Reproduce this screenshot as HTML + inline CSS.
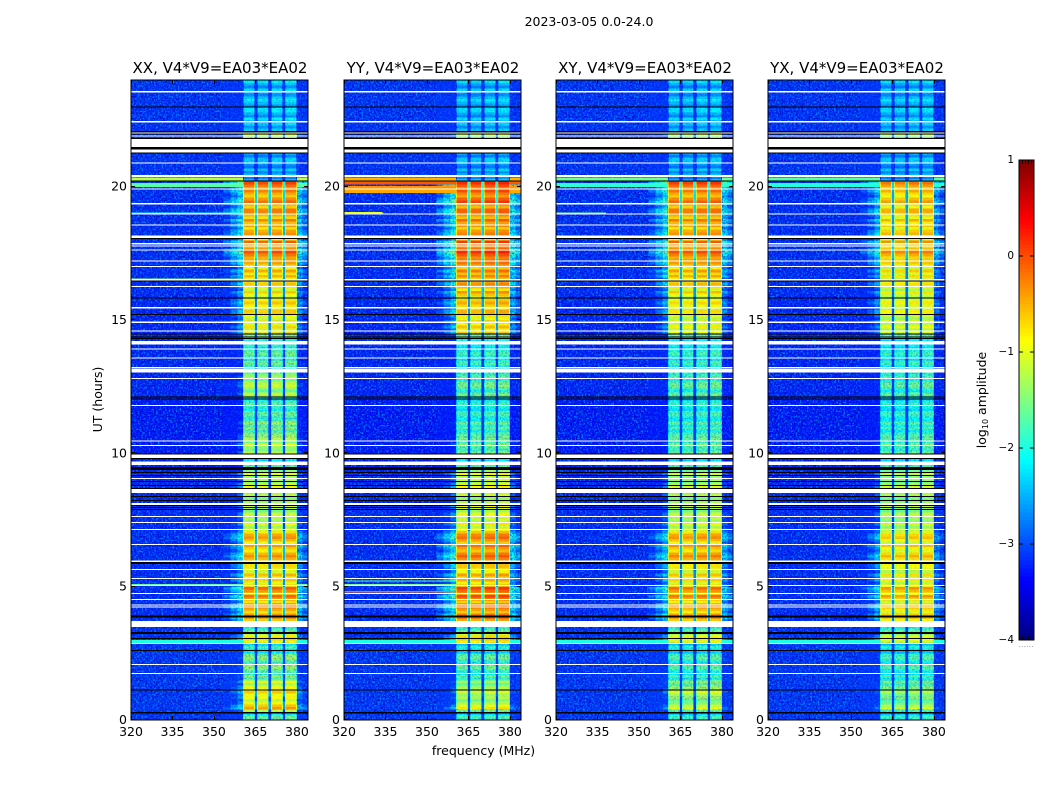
<!DOCTYPE html>
<html lang="en">
<head>
<meta charset="utf-8">
<title>2023-03-05 0.0-24.0</title>
<style>
html,body{margin:0;padding:0;background:#fff}
svg{display:block}
text{font-family:"DejaVu Sans","Liberation Sans",sans-serif;fill:#000}
</style>
</head>
<body>
<svg id="chart" xmlns="http://www.w3.org/2000/svg" width="1050" height="800" viewBox="0 0 1050 800">
<defs>
<filter id="speckle-light" x="0" y="0" width="100%" height="100%" color-interpolation-filters="sRGB">
<feTurbulence type="fractalNoise" baseFrequency="0.55" numOctaves="2" seed="4"/>
<feColorMatrix type="matrix" values="0 0 0 0 0  0 0 0 0 0.62  0 0 0 0 1  7 0 0 0 -3.6"/>
</filter>
<filter id="speckle-dark" x="0" y="0" width="100%" height="100%" color-interpolation-filters="sRGB">
<feTurbulence type="fractalNoise" baseFrequency="0.55" numOctaves="2" seed="11"/>
<feColorMatrix type="matrix" values="0 0 0 0 0  0 0 0 0 0  0 0 0 0 0.7  0 7 0 0 -3.4"/>
</filter>
</defs>
<text x="589" y="26" font-size="12.5" text-anchor="middle">2023-03-05 0.0-24.0</text>
<text x="483.5" y="755" font-size="12.5" text-anchor="middle">frequency (MHz)</text>
<text x="0" y="0" font-size="12.5" text-anchor="middle" transform="translate(102,399.5) rotate(-90)">UT (hours)</text>
<text x="0" y="0" font-size="12.5" text-anchor="middle" transform="translate(986,400) rotate(-90)">log<tspan font-size="8" dy="2">10</tspan><tspan dy="-2"> amplitude</tspan></text>
<g id="panels"></g>
<g id="colorbar"></g>
<text x="1026" y="647" font-size="8" text-anchor="middle" style="fill:#999">......</text>
</svg>
<script>
const panelTitles = ["XX, V4*V9=EA03*EA02", "YY, V4*V9=EA03*EA02", "XY, V4*V9=EA03*EA02", "YX, V4*V9=EA03*EA02"];
const freqTicks = [320, 335, 350, 365, 380];
const hourTicks = [0, 5, 10, 15, 20];
const colorTicks = [1, 0, -1, -2, -3, -4];

/* Band levels (log10 amplitude) over time segments; bandHours are the segment edges */
const bandHours = [0, 0.3, 0.4, 0.75, 0.9, 1.12, 1.55, 2.55, 2.89, 3.3, 3.5, 4, 4.5, 5, 5.6, 5.95, 6.6, 7.15, 7.6, 8.1, 8.5, 9.4, 9.85, 10.6, 11.3, 12.1, 13, 14.1, 14.5, 15.9, 16.5, 17.3, 18.05, 18.6, 19.4, 19.95, 20.25, 20.4, 21.83, 22.04, 24];
const bandXX = [-1.8, -1.2, -0.65, -1.05, -0.6, -1.05, -1.55, -1.9, -0.9, -1.7, -0.6, -0.5, -0.3, -0.75, -0.95, -0.55, -0.55, -1.15, -1.3, -1.35, -1.15, -1.9, -1.2, -1.5, -1.8, -1.3, -1.75, -1.6, -0.85, -0.8, -0.65, -0.25, -0.55, -0.45, -0.4, -0.15, -2.5, -2.5, -1.0, -2.35];
const bandYY = [-1.95, -1.5, -1.0, -1.4, -1.0, -1.4, -1.75, -2.05, -0.8, -1.7, -0.4, -0.4, -0.1, -0.6, -0.8, -0.3, -0.35, -1.0, -1.1, -1.25, -1.05, -1.9, -1.5, -1.75, -1.95, -1.65, -1.95, -1.7, -0.7, -0.5, -0.4, -0.05, -0.45, -0.3, -0.15, 0.0, -2.4, -2.5, -1.1, -2.4];
const bandXY = [-2.0, -1.65, -1.2, -1.5, -0.95, -1.45, -1.85, -2.05, -1.0, -1.7, -0.6, -0.6, -0.35, -0.8, -1.0, -0.5, -0.55, -1.15, -1.3, -1.35, -1.25, -2.0, -1.55, -1.8, -1.95, -1.7, -1.95, -1.8, -0.95, -0.75, -0.6, -0.25, -0.55, -0.4, -0.35, -0.1, -2.5, -2.5, -1.1, -2.4];
const bandYX = [-2.05, -1.75, -1.3, -1.6, -1.2, -1.6, -1.9, -2.1, -1.1, -1.75, -0.85, -0.8, -0.55, -0.95, -1.1, -0.75, -0.8, -1.25, -1.35, -1.4, -1.3, -2.0, -1.6, -1.85, -2.0, -1.75, -2.0, -1.85, -1.05, -0.95, -0.85, -0.5, -0.75, -0.7, -0.65, -0.4, -2.5, -2.5, -1.15, -2.4];
const subbandOffset = [-0.05, -0.08, -0.02, 0.0];
const rippleLevels = [0.24, 0.24, -0.2, 0.04, 0.28, 0.08, -0.24, -0.08, 0.2, -0.28, 0.0, 0.24, 0.12, -0.2, 0.16, -0.12, 0.24, -0.24, -0.04];

/* Quiet background level over time */
const lowHours = [0, 2.9, 3.5, 8.0, 9.5, 12.1, 15.9, 20.4, 24];
const lowLevel = [-3.1, -3.14, -3.16, -3.2, -3.26, -3.2, -3.16, -3.12];

/* Interference rows: panel index, hour span, level, top frequency */
const rfiPanel = [0, 0, 0, 0, 0, 0, 0, 0, 1, 1, 1, 1, 1, 1, 1, 1, 1, 2, 2, 2, 2, 2, 3, 3, 3, 3];
const rfiStart = [20.24, 19.98, 19.0, 16.53, 5.92, 5.06, 3.04, 2.89, 20.2, 20.08, 19.94, 19.76, 19.0, 5.2, 4.78, 5.06, 2.89, 20.24, 19.98, 19.0, 5.92, 2.89, 20.24, 19.98, 5.92, 2.89];
const rfiEnd = [20.35, 20.13, 19.03, 16.56, 5.96, 5.1, 3.07, 3.0, 20.35, 20.2, 20.02, 19.9, 19.05, 5.24, 4.84, 5.1, 3.0, 20.35, 20.13, 19.03, 5.96, 3.0, 20.35, 20.13, 5.96, 3.0];
const rfiLevel = [-1.25, -1.7, -1.9, -1.5, -1.2, -1.6, -1.2, -2.0, -0.5, -0.05, -0.35, -0.45, -1.0, -1.7, -0.2, -1.5, -2.0, -1.6, -1.9, -1.5, -1.4, -2.0, -1.7, -1.95, -1.4, -2.0];
const rfiTopFreq = [384, 384, 362, 362, 384, 384, 384, 384, 384, 384, 384, 384, 334, 362, 362, 362, 384, 384, 384, 338, 384, 384, 384, 384, 384, 384];

/* Fully flagged (white) and dead (black) time rows */
const flagStart = [1.72, 2.06, 2.85, 3.49, 4.22, 4.29, 4.5, 4.72, 5.02, 5.28, 5.62, 5.92, 6.56, 7.12, 7.38, 7.61, 8.06, 8.51, 9.03, 9.56, 9.82, 10.27, 10.46, 11.77, 12.78, 13.04, 13.19, 13.55, 13.91, 14.09, 14.56, 14.88, 15.44, 16.23, 16.49, 16.98, 17.2, 17.62, 17.77, 17.84, 18.07, 18.55, 18.96, 19.34, 19.9, 20.36, 20.86, 21.29, 21.49, 21.88, 22.0, 22.4, 23.54];
const flagEnd = [1.76, 2.1, 2.89, 3.71, 4.25, 4.33, 4.54, 4.76, 5.06, 5.32, 5.66, 5.98, 6.6, 7.16, 7.42, 7.65, 8.13, 8.66, 9.07, 9.69, 9.99, 10.31, 10.49, 11.81, 12.82, 13.16, 13.23, 13.59, 13.94, 14.22, 14.6, 14.95, 15.48, 16.27, 16.53, 17.02, 17.24, 17.65, 17.8, 17.88, 18.16, 18.59, 19.0, 19.38, 19.94, 20.43, 20.9, 21.4, 21.78, 21.92, 22.04, 22.47, 23.58];
const deadStart = [0.24, 1.11, 2.59, 3.04, 3.22, 3.84, 5.85, 7.87, 7.95, 8.02, 8.21, 8.36, 8.66, 8.77, 8.92, 9.15, 9.26, 9.37, 9.78, 9.99, 12.01, 12.11, 14.28, 14.36, 14.45, 15.18, 15.82, 16.44, 18.03, 20.19, 21.25, 21.4, 21.78, 21.95, 22.04, 22.97];
const deadEnd = [0.3, 1.14, 2.62, 3.07, 3.3, 3.92, 5.92, 7.91, 7.98, 8.06, 8.25, 8.4, 8.7, 8.81, 8.96, 9.18, 9.3, 9.48, 9.82, 10.0, 12.05, 12.14, 14.32, 14.39, 14.49, 15.22, 15.85, 16.49, 18.07, 20.24, 21.29, 21.49, 21.83, 21.99, 22.08, 23.01];

const panelBands = [bandXX, bandYY, bandXY, bandYX];
const panelLeft = [131, 344, 556, 768];
const plotTop = 80, plotBottom = 720, plotWidth = 177;
const freqMin = 320, freqMax = 384, hourMax = 24, rowStep = 0.1;
const subbandEdges = [[360.5, 364.8], [365.5, 369.8], [370.6, 374.9], [375.6, 380]];
const NS = "http://www.w3.org/2000/svg";

function jet(v) {
  const t = Math.max(0, Math.min(1, (v + 4) / 5));
  const ch = (c) => Math.round(255 * Math.max(0, Math.min(1, 1.5 - Math.abs(4 * t - c))));
  return "rgb(" + ch(3) + "," + ch(2) + "," + ch(1) + ")";
}
function yScale(h) { return plotBottom - (h / hourMax) * (plotBottom - plotTop); }
function lookup(edges, values, h) {
  for (let i = 0; i < values.length; i++) { if (h < edges[i + 1]) return values[i]; }
  return values[values.length - 1];
}
function node(parent, tag, attrs) {
  const el = document.createElementNS(NS, tag);
  for (const k in attrs) el.setAttribute(k, attrs[k]);
  parent.appendChild(el);
  return el;
}

const root = document.getElementById("panels");
panelTitles.forEach(function (title, p) {
  const left = panelLeft[p];
  const xScale = (f) => left + ((f - freqMin) / (freqMax - freqMin)) * plotWidth;
  const bands = panelBands[p];
  const g = node(root, "g", {"shape-rendering": "crispEdges"});
  
  

  const addSpeckle = function (f0, f1, hTop, hBottom, strength) {
    const x0 = xScale(f0), w = xScale(f1) - x0;
    const y0 = yScale(hTop), ht = yScale(hBottom) - y0;
    const a = node(g, "rect", {x: x0, y: y0, width: w, height: ht, fill: "#fff", filter: "url(#speckle-light)", opacity: strength});
    
    
    const b = node(g, "rect", {x: x0, y: y0, width: w, height: ht, fill: "#fff", filter: "url(#speckle-dark)", opacity: strength * 0.85});
    
    
  };

  lowLevel.forEach(function (lv, i) {
    const y1 = yScale(lowHours[i + 1]), y0 = yScale(lowHours[i]);
    const r = node(g, "rect", {x: left, y: y1, width: plotWidth, height: y0 - y1, fill: jet(lv)});
    
    
  });

  addSpeckle(freqMin, 353.5, hourMax, 0, 0.7);

  for (let n = 0; n < hourMax / rowStep; n++) {
    const h = n * rowStep;
    const lv = lookup(bandHours, bands, h + rowStep / 2);
    const low = lookup(lowHours, lowLevel, h + rowStep / 2);
    const ripple = rippleLevels[n % rippleLevels.length];
    const y = yScale(h + rowStep), hgt = yScale(h) - y + 0.4;
    const addCell = function (f0, f1, value, name) {
      const c = node(g, "rect", {x: xScale(f0), y: y, width: xScale(f1) - xScale(f0), height: hgt, fill: jet(Math.max(low, value))});
      
      
    };
    addCell(353.5, 356, lv + ripple * 1.3 - 2.6, 'shoulder-cell');
    addCell(356, 358.5, lv + ripple * 1.3 - 2.15, 'shoulder-cell');
    addCell(358.5, 360.5, lv + ripple * 1.3 - 1.75, 'shoulder-cell');
    addCell(380, 382, lv + ripple - 1.9, 'upper-edge-cell');
    addCell(382, freqMax, lv + ripple - 2.3, 'upper-edge-cell');
  }

  addSpeckle(353.5, 360.5, hourMax, 0, 0.35);
  addSpeckle(380, freqMax, hourMax, 0, 0.5);

  rfiLevel.forEach(function (lv, i) {
    if (rfiPanel[i] !== p) return;
    const y1 = yScale(rfiEnd[i]), y0 = yScale(rfiStart[i]);
    const r = node(g, "rect", {x: left, y: y1, width: xScale(rfiTopFreq[i]) - left, height: Math.max(1, y0 - y1), fill: jet(lv)});
    
    
  });

  for (let n = 0; n < hourMax / rowStep; n++) {
    const h = n * rowStep;
    const lv = lookup(bandHours, bands, h + rowStep / 2);
    const ripple = rippleLevels[n % rippleLevels.length];
    const y = yScale(h + rowStep), hgt = yScale(h) - y + 0.4;
    subbandEdges.forEach(function (edge, s) {
      const value = lv + subbandOffset[s] + ripple;
      const rim = node(g, "rect", {x: xScale(edge[0]), y: y, width: xScale(edge[1]) - xScale(edge[0]), height: hgt, fill: jet(value - 0.45)});
      
      
      const c = node(g, "rect", {x: xScale(edge[0] + 0.35), y: y, width: xScale(edge[1] - 0.35) - xScale(edge[0] + 0.35), height: hgt, fill: jet(value)});
      
      
      if (s < 3) {
        const gap = node(g, "rect", {x: xScale(edge[1]), y: y, width: xScale(subbandEdges[s + 1][0]) - xScale(edge[1]), height: hgt, fill: jet(Math.max(-3.1, lv - 1.9))});
        
        
      }
    });
  }

  bands.forEach(function (lv, i) {
    addSpeckle(360.5, 380, bandHours[i + 1], bandHours[i], lv < -1.4 ? 0.22 : 0.06);
  });

  flagStart.forEach(function (s, i) {
    const y1 = yScale(flagEnd[i]), y0 = yScale(s);
    const r = node(g, "rect", {x: left, y: y1, width: plotWidth, height: Math.max(1, y0 - y1), fill: "#fff"});
    
    
  });
  deadStart.forEach(function (s, i) {
    const y1 = yScale(deadEnd[i]), y0 = yScale(s);
    const r = node(g, "rect", {x: left, y: y1, width: plotWidth, height: Math.max(1, y0 - y1), fill: "#000"});
    
    
  });

  const frame = node(root, "rect", {x: left, y: plotTop, width: plotWidth, height: plotBottom - plotTop, fill: "none", stroke: "#000", "stroke-width": 1});
  
  

  const ttl = node(root, "text", {x: left + plotWidth / 2 + 0.5, y: 73, "font-size": 15, "text-anchor": "middle"});
  ttl.textContent = title;
  
  

  freqTicks.forEach(function (f) {
    const x = Math.round(xScale(f)) + 0.5;
    const t1 = node(root, "line", {x1: x, x2: x, y1: plotBottom, y2: plotBottom - 4, stroke: "#000"});
    
    
    const t2 = node(root, "line", {x1: x, x2: x, y1: plotTop, y2: plotTop + 4, stroke: "#000"});
    
    
    const lab = node(root, "text", {x: xScale(f), y: 736, "font-size": 12.5, "text-anchor": "middle"});
    lab.textContent = f;
    
    
  });
  hourTicks.forEach(function (h) {
    const y = Math.round(yScale(h)) - 0.5;
    const t1 = node(root, "line", {x1: left, x2: left + 4, y1: y, y2: y, stroke: "#000"});
    
    
    const t2 = node(root, "line", {x1: left + plotWidth, x2: left + plotWidth - 4, y1: y, y2: y, stroke: "#000"});
    
    
    const lab = node(root, "text", {x: left - 4, y: yScale(h) + 4, "font-size": 12.5, "text-anchor": "end"});
    lab.textContent = h;
    
    
  });
});

const cbar = document.getElementById("colorbar");
const cbLeft = 1019, cbWidth = 15, cbTop = 160, cbBottom = 640, cbSteps = 120;
const cbY = (v) => cbBottom - ((v + 4) / 5) * (cbBottom - cbTop);
for (let i = 0; i < cbSteps; i++) {
  const v0 = -4 + (5 * i) / cbSteps, v1 = -4 + (5 * (i + 1)) / cbSteps;
  const c = node(cbar, "rect", {x: cbLeft, y: cbY(v1), width: cbWidth, height: cbY(v0) - cbY(v1) + 0.5, fill: jet((v0 + v1) / 2), "shape-rendering": "crispEdges"});
  
  
}
const cbFrame = node(cbar, "rect", {x: cbLeft, y: cbTop, width: cbWidth, height: cbBottom - cbTop, fill: "none", stroke: "#000", "stroke-width": 1});


colorTicks.forEach(function (v) {
  const y = cbY(v);
  const a = node(cbar, "line", {x1: cbLeft, x2: cbLeft + 4, y1: y, y2: y, stroke: "#000"});
  
  
  const b = node(cbar, "line", {x1: cbLeft + cbWidth, x2: cbLeft + cbWidth - 4, y1: y, y2: y, stroke: "#000"});
  
  
  const lab = node(cbar, "text", {x: 1014, y: y + 3, "font-size": 10.5, "text-anchor": "end"});
  lab.textContent = String(v).replace("-", "\u2212");
  
  
});
[cbTop, cbBottom - 4].forEach(function (y) {
  [3, 6, 9, 12].forEach(function (dx) {
    const m = node(cbar, "line", {x1: cbLeft + dx + 0.5, x2: cbLeft + dx + 0.5, y1: y, y2: y + 4, stroke: "#000"});
    
    
  });
});
</script>
</body>
</html>
